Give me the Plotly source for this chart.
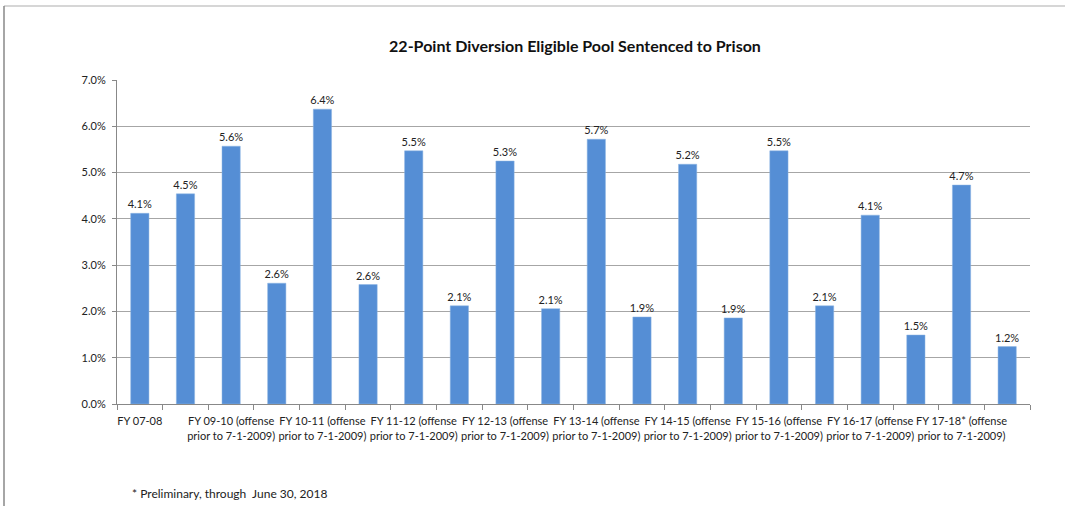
import plotly.graph_objects as go

categories = [
    "FY 07-08",
    "FY 08-09",
    "FY 09-10 (offense prior to 7-1-2009)",
    "FY 09-10 (offense on or after 7-1-2009)",
    "FY 10-11 (offense prior to 7-1-2009)",
    "FY 10-11 (offense on or after 7-1-2009)",
    "FY 11-12 (offense prior to 7-1-2009)",
    "FY 11-12 (offense on or after 7-1-2009)",
    "FY 12-13 (offense prior to 7-1-2009)",
    "FY 12-13 (offense on or after 7-1-2009)",
    "FY 13-14 (offense prior to 7-1-2009)",
    "FY 13-14 (offense on or after 7-1-2009)",
    "FY 14-15 (offense prior to 7-1-2009)",
    "FY 14-15 (offense on or after 7-1-2009)",
    "FY 15-16 (offense prior to 7-1-2009)",
    "FY 15-16 (offense on or after 7-1-2009)",
    "FY 16-17 (offense prior to 7-1-2009)",
    "FY 16-17 (offense on or after 7-1-2009)",
    "FY 17-18* (offense prior to 7-1-2009)",
    "FY 17-18* (offense on or after 7-1-2009)",
]
values = [0.0412, 0.0454, 0.0557, 0.0261, 0.0637, 0.0258, 0.0547, 0.0212,
          0.0525, 0.0206, 0.0572, 0.0188, 0.0518, 0.0186, 0.0547, 0.0212,
          0.0408, 0.0149, 0.0473, 0.0124]
tick_labels = [
    "FY 07-08", "",
    "FY 09-10 (offense<br>prior to 7-1-2009)", "",
    "FY 10-11 (offense<br>prior to 7-1-2009)", "",
    "FY 11-12 (offense<br>prior to 7-1-2009)", "",
    "FY 12-13 (offense<br>prior to 7-1-2009)", "",
    "FY 13-14 (offense<br>prior to 7-1-2009)", "",
    "FY 14-15 (offense<br>prior to 7-1-2009)", "",
    "FY 15-16 (offense<br>prior to 7-1-2009)", "",
    "FY 16-17 (offense<br>prior to 7-1-2009)", "",
    "FY 17-18* (offense<br>prior to 7-1-2009)", "",
]
y_ticks = [0, 0.01, 0.02, 0.03, 0.04, 0.05, 0.06, 0.07]

FONT = "Lato, 'Open Sans', sans-serif"

fig = go.Figure(go.Bar(
    x=categories,
    y=values,
    marker=dict(color="#558ed5", line=dict(color="#8db4e2", width=0.5)),
    texttemplate="%{y:.1%}",
    textposition="outside",
    constraintext="none",
    cliponaxis=False,
    textfont=dict(size=11, color="#222222", family=FONT),
))

fig.update_layout(
    width=1065, height=506,
    paper_bgcolor="white", plot_bgcolor="white",
    margin=dict(l=117, r=35, t=80, b=102),
    bargap=0.6,
    showlegend=False,
    font=dict(family=FONT, size=11, color="#222222"),
    title=dict(
        text="<b>22-Point Diversion Eligible Pool Sentenced to Prison</b>",
        x=575 / 1065, xanchor="center", y=1 - 46 / 506, yanchor="middle",
        font=dict(size=16, family=FONT, color="#111111"),
    ),
    xaxis=dict(
        tickmode="array", tickvals=categories, ticktext=tick_labels,
        tickangle=0, tickson="boundaries", ticks="outside", ticklen=5,
        tickcolor="#888888", showline=True, linecolor="#888888",
        ticklabelstandoff=7,
        showgrid=False, tickfont=dict(size=11, family=FONT, color="#222222"),
    ),
    yaxis=dict(
        range=[0, 0.07], tickvals=y_ticks, tickformat=".1%",
        showgrid=True, gridcolor="#a6a6a6", gridwidth=1,
        showline=True, linecolor="#888888", ticks="outside", ticklen=4,
        tickcolor="#888888", zeroline=False, ticklabelstandoff=4,
        tickfont=dict(size=11, family=FONT, color="#222222"),
    ),
    annotations=[dict(
        text="* Preliminary, through  June 30, 2018",
        xref="paper", yref="paper", x=(130 - 117) / 913, y=-(493 - 404) / 324,
        xanchor="left", yanchor="middle", showarrow=False,
        font=dict(size=12, family=FONT, color="#222222"),
    )],
    shapes=[
        dict(type="line", xref="paper", yref="paper",
             x0=-(117 - 4) / 913, x1=(1070 - 117) / 913,
             y0=1 + (80 - 6) / 324, y1=1 + (80 - 6) / 324,
             line=dict(color="#c8c8c8", width=1.5)),
        dict(type="line", xref="paper", yref="paper",
             x0=-(117 - 4) / 913, x1=-(117 - 4) / 913,
             y0=1 + (80 - 6) / 324, y1=-(510 - 404) / 324,
             line=dict(color="#888888", width=1.5)),
    ],
)

fig.write_html(
    "out.html",
    config={"displayModeBar": False},
    post_script="document.body.style.margin='0';document.body.style.padding='0';",
)
